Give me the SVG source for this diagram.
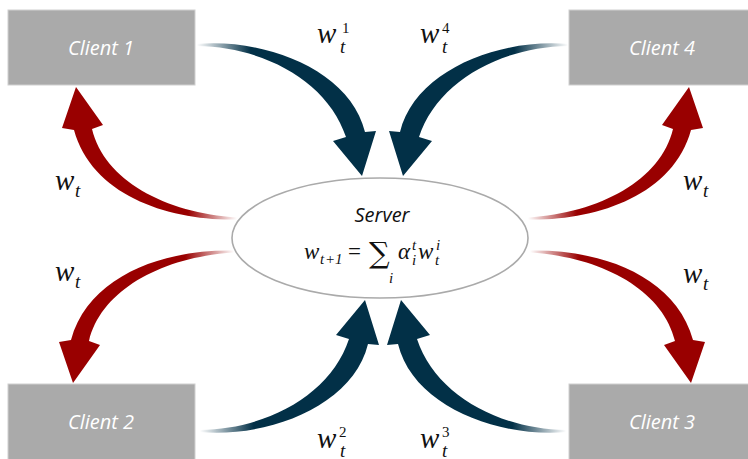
<svg xmlns="http://www.w3.org/2000/svg" width="748" height="459" viewBox="0 0 748 459">
<style>
.box{fill:#aaaaaa;stroke:#d0d0d0;stroke-width:1}
.cl{font-family:"Open Sans","Noto Sans",sans-serif;font-style:italic;font-size:20px;fill:#ffffff;text-anchor:middle}
.srv{font-family:"Open Sans","Noto Sans",sans-serif;font-style:italic;font-size:20px;fill:#111;text-anchor:middle}
.m{font-family:"Liberation Serif","DejaVu Serif",serif;font-style:italic;font-size:29px;fill:#111}
.ms{font-family:"Liberation Serif","DejaVu Serif",serif;font-style:italic;font-size:19px;fill:#111}
.md{font-family:"Liberation Serif","DejaVu Serif",serif;font-size:15px;fill:#111}
.f{font-family:"Liberation Serif","DejaVu Serif",serif;font-style:italic;font-size:23px;fill:#111}
.fs{font-family:"Liberation Serif","DejaVu Serif",serif;font-style:italic;font-size:15px;fill:#111}
.fr{font-family:"Liberation Serif","DejaVu Serif",serif;font-size:23px;fill:#111}
</style>
<defs>
<linearGradient id="gb" x1="0" y1="0" x2="1" y2="0">
<stop offset="0" stop-color="#023047" stop-opacity="0"/>
<stop offset="0.3" stop-color="#023047" stop-opacity="1"/>
<stop offset="1" stop-color="#023047"/>
</linearGradient>
<linearGradient id="gr" x1="1" y1="0" x2="0" y2="0">
<stop offset="0" stop-color="#990000" stop-opacity="0"/>
<stop offset="0.28" stop-color="#990000" stop-opacity="1"/>
<stop offset="1" stop-color="#990000"/>
</linearGradient>
<path id="ab" d="M197,44 C265,38 350,70 365,132 L376,131 L362,176 L333,141 L346,137 C328,82 265,47 197,46 Z"/>
<path id="ar" d="M237,219.5 C170,221 92,196 74,130 L62,128 L76,87 L103,125 L92,129 C104,180 165,213 237,217.5 Z"/>
</defs>
<g id="connectors">
<use href="#ab" fill="url(#gb)"/>
<use href="#ab" fill="url(#gb)" transform="matrix(-1 0 0 1 765 0)"/>
<use href="#ab" fill="url(#gb)" transform="matrix(1 0 0 -1 3 476)"/>
<use href="#ab" fill="url(#gb)" transform="matrix(-1 0 0 -1 763 476)"/>
<use href="#ar" fill="url(#gr)"/>
<use href="#ar" fill="url(#gr)" transform="matrix(-1 0 0 1 765 0)"/>
<use href="#ar" fill="url(#gr)" transform="matrix(1 0 0 -1 -3 470)"/>
<use href="#ar" fill="url(#gr)" transform="matrix(-1 0 0 -1 767 470)"/>
</g>
<g id="labels">
<text x="317" y="43" class="m">w</text><text x="342" y="33" class="md">1</text><text x="340" y="53" class="ms">t</text>
<text x="420" y="43" class="m">w</text><text x="442" y="33" class="md">4</text><text x="442" y="53" class="ms">t</text>
<text x="55" y="190" class="m">w</text><text x="75" y="197" class="ms">t</text>
<text x="683" y="190" class="m">w</text><text x="703" y="197" class="ms">t</text>
<text x="55" y="281" class="m">w</text><text x="75" y="288" class="ms">t</text>
<text x="683" y="283" class="m">w</text><text x="703" y="290" class="ms">t</text>
<text x="317" y="448" class="m">w</text><text x="339" y="437" class="md">2</text><text x="340" y="457" class="ms">t</text>
<text x="420" y="448" class="m">w</text><text x="442" y="437" class="md">3</text><text x="442" y="457" class="ms">t</text>
</g>
<g id="client1"><rect class="box" x="8" y="10" width="187" height="75"/><text class="cl" x="101" y="55">Client 1</text></g>
<g id="client4"><rect class="box" x="569" y="10" width="187" height="75"/><text class="cl" x="662" y="55">Client 4</text></g>
<g id="client2"><rect class="box" x="8" y="384" width="187" height="76"/><text class="cl" x="101" y="429">Client 2</text></g>
<g id="client3"><rect class="box" x="569" y="384" width="187" height="76"/><text class="cl" x="662" y="429">Client 3</text></g>
<g id="server">
<ellipse cx="380" cy="238" rx="148" ry="60" fill="#ffffff" stroke="#aaaaaa" stroke-width="1.6"/>
<text class="srv" x="382" y="222">Server</text>
<text class="f" x="304" y="259">w</text><text class="fs" x="320" y="264">t</text><text class="fs" x="325" y="264" font-style="normal">+1</text>
<text class="fr" x="348" y="259">=</text>
<text x="369" y="263" font-family="DejaVu Serif,serif" font-size="29" fill="#111">∑</text>
<text class="fs" x="389" y="283">i</text>
<text class="f" x="398" y="259">α</text><text class="fs" x="412" y="250">t</text><text class="fs" x="412" y="265">i</text>
<text class="f" x="418" y="259">w</text><text class="fs" x="436" y="250">i</text><text class="fs" x="435" y="265">t</text>
</g>
</svg>
